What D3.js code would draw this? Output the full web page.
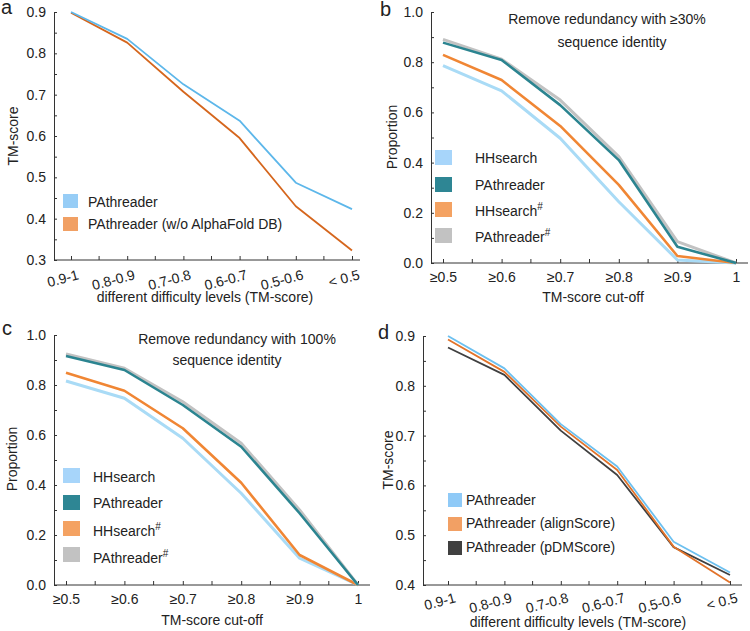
<!DOCTYPE html>
<html><head><meta charset="utf-8">
<script src="https://cdn.jsdelivr.net/npm/d3@7"></script>
<style>
body{margin:0;background:#fff}
text{font-family:Arial,"Liberation Sans",sans-serif;fill:#222}
</style>
</head><body>
<svg id="chart" width="750" height="631"></svg>
<script>
// ---------------- data ----------------
const levels = ["0.9-1","0.8-0.9","0.7-0.8","0.6-0.7","0.5-0.6","< 0.5"];
const cutoffs = ["≥0.5","≥0.6","≥0.7","≥0.8","≥0.9","1"];

const aPAthreader = [0.900,0.835,0.725,0.637,0.487,0.423];
const aNoAFDB     = [0.898,0.826,0.707,0.595,0.430,0.323];

const bHHsearch     = [0.786,0.686,0.497,0.244,0.012,0];
const bPAthreader   = [0.878,0.809,0.629,0.410,0.065,0];
const bHHsearchH    = [0.829,0.729,0.546,0.311,0.028,0];
const bPAthreaderH  = [0.891,0.812,0.649,0.424,0.085,0];

const cHHsearch     = [0.816,0.747,0.587,0.367,0.107,0];
const cPAthreader   = [0.916,0.860,0.720,0.553,0.287,0];
const cHHsearchH    = [0.849,0.777,0.627,0.409,0.120,0];
const cPAthreaderH  = [0.924,0.867,0.733,0.567,0.300,0];

const dPAthreader   = [0.900,0.835,0.723,0.638,0.487,0.425];
const dAlignScore   = [0.893,0.828,0.718,0.631,0.477,0.405];
const dPDMScore     = [0.877,0.822,0.710,0.621,0.476,0.420];

const yTicksTM   = [0.3,0.4,0.5,0.6,0.7,0.8,0.9];
const yTicksProp = [0.0,0.2,0.4,0.6,0.8,1.0];

// ---------------- drawing ----------------
const svg = d3.select("#chart");

function panel(o){
  const g = svg.append("g");
  const x = d3.scalePoint().domain(o.cats).range(o.xr);
  const y = d3.scaleLinear().domain(o.yd).range(o.yr);
  const major = o.yticks.filter(v => v >= o.yd[0]-1e-9 && v <= o.yd[1]+1e-9);
  const minor = [];
  for (let i=0;i<major.length-1;i++) minor.push((major[i]+major[i+1])/2);

  // y axis
  const ya = g.append("g").attr("transform",`translate(${o.ax},0)`)
    .call(d3.axisLeft(y).tickValues(major).tickSize(-3).tickSizeOuter(0).tickPadding(8).tickFormat(d3.format(".1f")));
  ya.select(".domain").attr("stroke","#333");
  ya.selectAll(".tick line").attr("stroke","#333");
  ya.selectAll("text").style("font-size","14px").style("font-family","Arial,'Liberation Sans',sans-serif").attr("fill","#222");
  g.append("g").attr("transform",`translate(${o.ax},0)`)
    .call(d3.axisLeft(y).tickValues(minor).tickSize(-3).tickFormat(""))
    .call(s=>s.select(".domain").remove())
    .selectAll("line").attr("stroke","#333");

  // x axis
  const yb = y(o.yd[0]);
  g.append("line").attr("x1",o.ax).attr("x2",o.axEnd).attr("y1",yb).attr("y2",yb).attr("stroke","#333");
  const xa = g.append("g").attr("transform",`translate(0,${yb})`)
    .call(d3.axisBottom(x).tickSize(-4).tickPadding(9));
  xa.select(".domain").remove();
  xa.selectAll(".tick line").attr("stroke","#333");
  xa.selectAll("text").style("font-size","14px").style("font-family","Arial,'Liberation Sans',sans-serif").attr("fill","#222");
  if (o.rot){
    xa.selectAll("text").attr("text-anchor","end").attr("dy",null).attr("y",0).attr("x",0)
      .attr("transform",`translate(8,${o.rotY}) rotate(-15)`);
  }
  const pts = o.cats.map(c=>x(c));
  const mids = [];
  for (let i=0;i<pts.length-1;i++) mids.push((pts[i]+pts[i+1])/2);
  g.selectAll(".mx").data(mids).join("line").attr("x1",d=>d).attr("x2",d=>d)
    .attr("y1",yb).attr("y2",yb-4).attr("stroke","#333");

  // series
  const line = d3.line().x((d,i)=>x(o.cats[i])).y(d=>y(d));
  o.series.forEach(s=>{
    g.append("path").datum(s.values).attr("d",line).attr("fill","none")
      .attr("stroke",s.color).attr("stroke-width",s.w).attr("stroke-linejoin","round");
  });

  // legend
  o.legend.items.forEach((it,i)=>{
    const L = o.legend;
    g.append("rect").attr("x",L.sx).attr("y",L.sy[i]).attr("width",L.sw).attr("height",L.sh).attr("fill",it.swatch);
    const t = g.append("text").attr("x",L.tx).attr("y",L.ty[i]).style("font-size","14px");
    t.append("tspan").text(it.label);
    if (it.sup) t.append("tspan").attr("dy",-6).style("font-size","10px").text(it.sup);
  });

  // titles
  g.append("text").attr("x",o.xt[0]).attr("y",o.xt[1]).attr("text-anchor","middle").style("font-size","14px").text(o.xtitle);
  g.append("text").attr("transform",`translate(${o.yt[0]},${o.yt[1]}) rotate(-90)`).attr("text-anchor","middle").style("font-size","14px").text(o.ytitle);
  g.append("text").attr("x",o.lab[0]).attr("y",o.lab[1]).style("font-size","20px").text(o.letter);
  (o.notes||[]).forEach(n=>{
    g.append("text").attr("x",n[0]).attr("y",n[1]).attr("text-anchor","middle").style("font-size","14px").text(n[2]);
  });
}

const cLightBlue="#a9dbf6", cTeal="#2b8490", cOrange="#f08634", cGray="#c2c2c2";

panel({
  letter:"a", lab:[1,14], cats:levels, xr:[71,352], yd:[0.3,0.9], yr:[260,12], ax:54, axEnd:360,
  yticks:yTicksTM, rot:true, rotY:19,
  series:[
    {values:aNoAFDB, color:"#d5661d", w:1.8},
    {values:aPAthreader, color:"#5db7ea", w:1.8}
  ],
  legend:{sx:63, sy:[194,217], sw:15, sh:14, tx:88, ty:[207,229],
    items:[{label:"PAthreader", swatch:"#97cdf6"},{label:"PAthreader (w/o AlphaFold DB)", swatch:"#f1a064"}]},
  xtitle:"different difficulty levels (TM-score)", xt:[205,302],
  ytitle:"TM-score", yt:[18,136]
});

const legBC = [
  {label:"HHsearch", swatch:"#a7d5fa"},
  {label:"PAthreader", swatch:"#2e8694"},
  {label:"HHsearch", sup:"#", swatch:"#f4a262"},
  {label:"PAthreader", sup:"#", swatch:"#c2c2c2"}
];

panel({
  letter:"b", lab:[380,16], cats:cutoffs, xr:[443,736], yd:[0,1], yr:[263,12], ax:431, axEnd:748,
  yticks:yTicksProp, rot:false,
  series:[
    {values:bHHsearch, color:cLightBlue, w:3},
    {values:bHHsearchH, color:cOrange, w:2.6},
    {values:bPAthreaderH, color:cGray, w:3},
    {values:bPAthreader, color:cTeal, w:2.6}
  ],
  legend:{sx:435, sy:[150,177,202,228], sw:17, sh:15, tx:475, ty:[163,190,216,242], items:legBC},
  xtitle:"TM-score cut-off", xt:[593,302],
  ytitle:"Proportion", yt:[397,137],
  notes:[[607,24,"Remove redundancy with ≥30%"],[612,47,"sequence identity"]]
});

panel({
  letter:"c", lab:[2,335], cats:cutoffs, xr:[66,358], yd:[0,1], yr:[585,335], ax:54, axEnd:370,
  yticks:yTicksProp, rot:false,
  series:[
    {values:cHHsearch, color:cLightBlue, w:3},
    {values:cHHsearchH, color:cOrange, w:2.6},
    {values:cPAthreaderH, color:cGray, w:3},
    {values:cPAthreader, color:cTeal, w:2.6}
  ],
  legend:{sx:63, sy:[468,495,521,547], sw:17, sh:15, tx:93, ty:[482,508,536,563], items:legBC},
  xtitle:"TM-score cut-off", xt:[212,625],
  ytitle:"Proportion", yt:[17,459],
  notes:[[237,344,"Remove redundancy with 100%"],[227,365,"sequence identity"]]
});

panel({
  letter:"d", lab:[378,339], cats:levels, xr:[448,730], yd:[0.4,0.9], yr:[585,336], ax:423, axEnd:742,
  yticks:yTicksTM, rot:true, rotY:17,
  series:[
    {values:dPDMScore, color:"#404040", w:1.8},
    {values:dAlignScore, color:"#e2732a", w:1.8},
    {values:dPAthreader, color:"#6cc0f0", w:1.8}
  ],
  legend:{sx:448, sy:[493,517,541], sw:14, sh:14, tx:466, ty:[505,528,552],
    items:[{label:"PAthreader", swatch:"#8fcaf7"},{label:"PAthreader (alignScore)", swatch:"#f2a064"},{label:"PAthreader (pDMScore)", swatch:"#404040"}]},
  xtitle:"different difficulty levels (TM-score)", xt:[578,627],
  ytitle:"TM-score", yt:[393,460]
});
</script>
</body></html>
